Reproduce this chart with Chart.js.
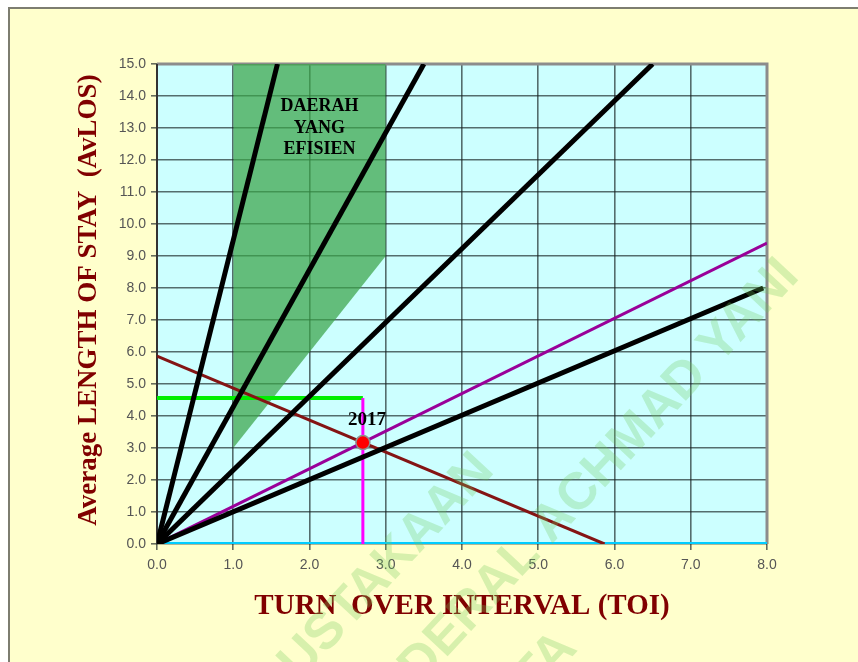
<!DOCTYPE html>
<html>
<head>
<meta charset="utf-8">
<script src="https://cdn.jsdelivr.net/npm/chart.js@4/dist/chart.umd.min.js"></script>
<style>
  html, body { margin: 0; padding: 0; background: #fff; }
  #wrap { width: 858px; height: 662px; position: relative; }
</style>
</head>
<body>
<div id="wrap"><canvas id="bj" width="858" height="662"></canvas></div>
<script>
// Barber-Johnson graph, TOI vs AvLOS

// tick labels
const toiTicks = [0, 1, 2, 3, 4, 5, 6, 7, 8];
const alosTicks = [0, 1, 2, 3, 4, 5, 6, 7, 8, 9, 10, 11, 12, 13, 14, 15];

// BOR lines from origin (black)
const borLine1 = [{ x: 0, y: 0 }, { x: 1.58, y: 15 }];
const borLine2 = [{ x: 0, y: 0 }, { x: 3.5, y: 15 }];
const borLine3 = [{ x: 0, y: 0 }, { x: 6.5, y: 15 }];
const borLine4 = [{ x: 0, y: 0 }, { x: 7.95, y: 8.0 }];

// 2017 lines
const borLine2017 = [{ x: 0, y: 0 }, { x: 8, y: 9.4 }];
const btoLine2017 = [{ x: 0, y: 5.87 }, { x: 5.87, y: 0 }];
const losLine2017 = [{ x: 0, y: 4.56 }, { x: 2.7, y: 4.56 }];
const toiLine2017 = [{ x: 2.7, y: 0 }, { x: 2.7, y: 4.56 }];
const baseLine = [{ x: 0, y: 0 }, { x: 8, y: 0 }];
const point2017 = [{ x: 2.7, y: 3.17 }];
const pointLabel = '2017';

// efficient area: lower edge, filled up to AvLOS 15
const efficientEdge = [{ x: 1, y: 3 }, { x: 3, y: 9 }];
const efficientTop = 15;
const efficientLabel = ['DAERAH', 'YANG', 'EFISIEN'];
const efficientLabelAt = { x: 2.13, y: 13.0 };

const xTitle = 'TURN  OVER INTERVAL (TOI)';
const yTitle = 'Average LENGTH OF STAY  (AvLOS)';
const watermark = ['PERPUSTAKAAN', 'JENDERAL ACHMAD YANI', 'HAK CIPTA'];

const serif = '"Liberation Serif", "Times New Roman", serif';
const tickFont = '"Liberation Sans Narrow", "Arial Narrow", "Liberation Sans", Arial, sans-serif';
const gridColor = 'rgba(20,30,30,0.65)';

function line(data, color, width) {
  return {
    data: data,
    showLine: true,
    borderColor: color,
    borderWidth: width,
    pointRadius: 0,
    pointHoverRadius: 0,
    fill: false,
    borderCapStyle: 'butt'
  };
}

const backdrop = {
  id: 'backdrop',
  beforeDraw(chart) {
    const ctx = chart.ctx;
    const a = chart.chartArea;
    ctx.save();
    ctx.fillStyle = '#ffffff';
    ctx.fillRect(0, 0, chart.width, chart.height);
    ctx.fillStyle = '#ffffcc';
    ctx.fillRect(10, 9, chart.width, chart.height);
    ctx.strokeStyle = '#7d7d70';
    ctx.lineWidth = 2;
    ctx.beginPath();
    ctx.moveTo(9, chart.height);
    ctx.lineTo(9, 8);
    ctx.lineTo(chart.width, 8);
    ctx.stroke();
    ctx.fillStyle = '#ccffff';
    ctx.fillRect(a.left, a.top, a.right - a.left, a.bottom - a.top);
    ctx.restore();
  },
  beforeDatasetsDraw(chart) {
    const ctx = chart.ctx;
    const a = chart.chartArea;
    ctx.save();
    ctx.strokeStyle = '#8c8c8c';
    ctx.lineWidth = 3;
    ctx.beginPath();
    ctx.moveTo(a.left, a.top);
    ctx.lineTo(a.right, a.top);
    ctx.lineTo(a.right, a.bottom);
    ctx.stroke();
    ctx.strokeStyle = '#333';
    ctx.lineWidth = 2;
    ctx.beginPath();
    ctx.moveTo(a.left, a.top);
    ctx.lineTo(a.left, a.bottom);
    ctx.stroke();
    ctx.restore();
  },
  afterDatasetsDraw(chart) {
    const ctx = chart.ctx;
    const xs = chart.scales.x, ys = chart.scales.y;
    ctx.save();
    ctx.fillStyle = '#000';
    ctx.textAlign = 'center';
    ctx.textBaseline = 'middle';
    ctx.font = 'bold 18px ' + serif;
    const lx = xs.getPixelForValue(efficientLabelAt.x);
    const ly = ys.getPixelForValue(efficientLabelAt.y);
    efficientLabel.forEach((t, i) => {
      ctx.fillText(t, lx, ly + (i - 1) * 21.5);
    });
    ctx.font = 'bold 19px ' + serif;
    ctx.fillText(pointLabel, xs.getPixelForValue(point2017[0].x) + 4, ys.getPixelForValue(point2017[0].y) - 22);

    // axis titles
    const a = chart.chartArea;
    ctx.fillStyle = '#800000';
    ctx.font = 'bold 29px ' + serif;
    ctx.fillText(xTitle, (a.left + a.right) / 2, 607);
    ctx.translate(89, 300);
    ctx.rotate(-Math.PI / 2);
    ctx.font = 'bold 27px ' + serif;
    ctx.fillText(yTitle, 0, 0);
    ctx.restore();
  },
  afterDraw(chart) {
    const ctx = chart.ctx;
    const spots = [[485, 462], [790, 268], [568, 640]];
    ctx.save();
    ctx.fillStyle = 'rgba(110,200,90,0.28)';
    ctx.font = 'bold 52px "Liberation Sans", Arial, sans-serif';
    ctx.textAlign = 'right';
    ctx.textBaseline = 'middle';
    watermark.forEach((t, i) => {
      ctx.save();
      ctx.translate(spots[i][0], spots[i][1]);
      ctx.rotate(-47 * Math.PI / 180);
      ctx.fillText(t, 0, 0);
      ctx.restore();
    });
    ctx.restore();
  }
};

const ctx = document.getElementById('bj').getContext('2d');
new Chart(ctx, {
  type: 'scatter',
  data: {
    datasets: [
      {
        data: point2017,
        pointRadius: 7,
        pointHoverRadius: 7,
        backgroundColor: '#ff0000',
        borderColor: '#8f8f8f',
        borderWidth: 1.5,
        showLine: false
      },
      line(borLine1, '#000000', 5),
      line(borLine2, '#000000', 5),
      line(borLine3, '#000000', 5),
      line(borLine4, '#000000', 5),
      line(toiLine2017, '#ff00ff', 3),
      line(borLine2017, '#990099', 3),
      line(btoLine2017, '#841414', 3),
      line(losLine2017, '#00ee00', 4),
      line(baseLine, '#00ccff', 4),
      {
        data: efficientEdge,
        showLine: true,
        borderWidth: 0,
        borderColor: 'rgba(0,0,0,0)',
        pointRadius: 0,
        backgroundColor: 'rgba(58,164,72,0.72)',
        fill: { target: { value: efficientTop } }
      }
    ]
  },
  options: {
    responsive: false,
    animation: false,
    devicePixelRatio: 1,
    layout: { padding: { left: 0, right: 91, top: 64, bottom: 0 } },
    plugins: {
      legend: { display: false },
      title: { display: false },
      tooltip: { enabled: false }
    },
    scales: {
      x: {
        type: 'linear',
        min: 0,
        max: 8,
        afterBuildTicks: axis => { axis.ticks = toiTicks.map(v => ({ value: v })); },
        afterFit: scale => { scale.height = 118; },
        ticks: {
          callback: v => v.toFixed(1),
          color: '#555555',
          font: { family: tickFont, size: 14 },
          padding: 7,
          maxRotation: 0
        },
        grid: { color: gridColor, lineWidth: 1.6, tickLength: 6 },
        border: { display: false }
      },
      y: {
        type: 'linear',
        min: 0,
        max: 15,
        afterBuildTicks: axis => { axis.ticks = alosTicks.map(v => ({ value: v })); },
        afterFit: scale => { scale.width = 157; },
        ticks: {
          callback: v => v.toFixed(1),
          color: '#555555',
          font: { family: tickFont, size: 14 },
          padding: 5
        },
        grid: { color: gridColor, lineWidth: 1.6, tickLength: 6 },
        border: { display: false }
      }
    }
  },
  plugins: [backdrop]
});
</script>
</body>
</html>
